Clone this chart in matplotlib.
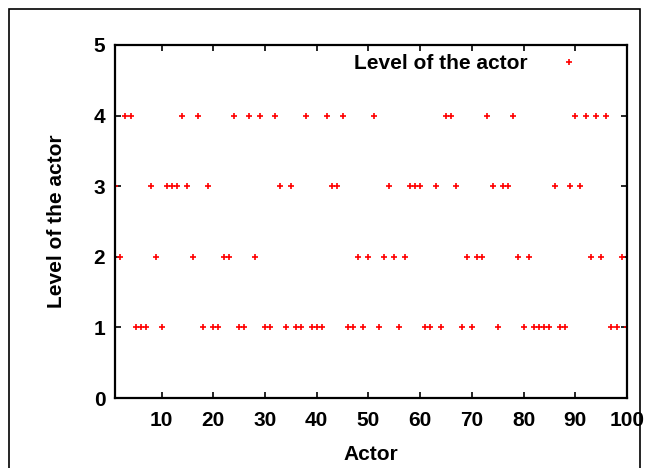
import matplotlib
matplotlib.use('Agg')
from matplotlib import pyplot as plt
from matplotlib.patches import Rectangle

# level of each actor (actor number -> level)
level4 = [3, 4, 14, 17, 24, 27, 29, 32, 38, 42, 45, 51, 65, 66, 73, 78, 90, 92, 94, 96]
level3 = [1, 8, 11, 12, 13, 15, 19, 33, 35, 43, 44, 54, 58, 59, 60, 63, 67, 74,
          76, 77, 86, 89, 91]
level2 = [2, 9, 16, 22, 23, 28, 48, 50, 53, 55, 57, 69, 71, 72, 79, 81, 93, 95, 99]
level1 = [5, 6, 7, 10, 18, 20, 21, 25, 26, 30, 31, 34, 36, 37, 39, 40, 41, 46, 47,
          49, 52, 56, 61, 62, 64, 68, 70, 75, 80, 82, 83, 84, 85, 87, 88, 97, 98, 100]

levels = {4: level4, 3: level3, 2: level2, 1: level1}
actors = []
values = []
for lv, xs in levels.items():
    for a in xs:
        actors.append(a)
        values.append(lv)
order = sorted(range(len(actors)), key=lambda i: actors[i])
actors = [actors[i] for i in order]
values = [values[i] for i in order]

xticks = [10, 20, 30, 40, 50, 60, 70, 80, 90, 100]
yticks = [0, 1, 2, 3, 4, 5]

plt.rcParams['font.family'] = ['Liberation Sans', 'DejaVu Sans']
plt.rcParams['font.weight'] = 'bold'
fs = 15

W, H = 653, 468
fig = plt.figure(figsize=(W / 100, H / 100), dpi=100)
fig.patches.append(Rectangle((9 / W, -0.1), (640 - 9) / W, (H - 9) / H + 0.1,
                             transform=fig.transFigure, fill=False,
                             edgecolor='black', linewidth=1.2))

ax = fig.add_axes([115 / W, 1 - 398 / H, (627 - 115) / W, (398 - 45) / H])
ax.plot(actors, values, linestyle='none', marker='+', color='#ff0000',
        markersize=5, markeredgewidth=1.2, label='Level of the actor')

ax.set_xlim(1, 100)
ax.set_ylim(0, 5)
ax.set_xticks(xticks)
ax.set_yticks(yticks)
ax.tick_params(direction='in', top=True, right=True, length=4, width=1.2,
               labelsize=fs, pad=7)
ax.tick_params(axis='x', pad=9)
for lab in ax.get_xticklabels() + ax.get_yticklabels():
    lab.set_fontweight('bold')
for s in ax.spines.values():
    s.set_linewidth(1.6)

ax.set_xlabel('Actor', fontsize=fs, fontweight='bold', labelpad=11)
ax.set_ylabel('Level of the actor', fontsize=fs, fontweight='bold', labelpad=20)

ax.legend(loc='upper right', bbox_to_anchor=(0.907, 0.974), frameon=False,
          markerfirst=False, handlelength=1.0, handletextpad=1.5,
          borderaxespad=0, borderpad=0, prop={'weight': 'bold', 'size': fs})

fig.savefig('out.png', dpi=100)
